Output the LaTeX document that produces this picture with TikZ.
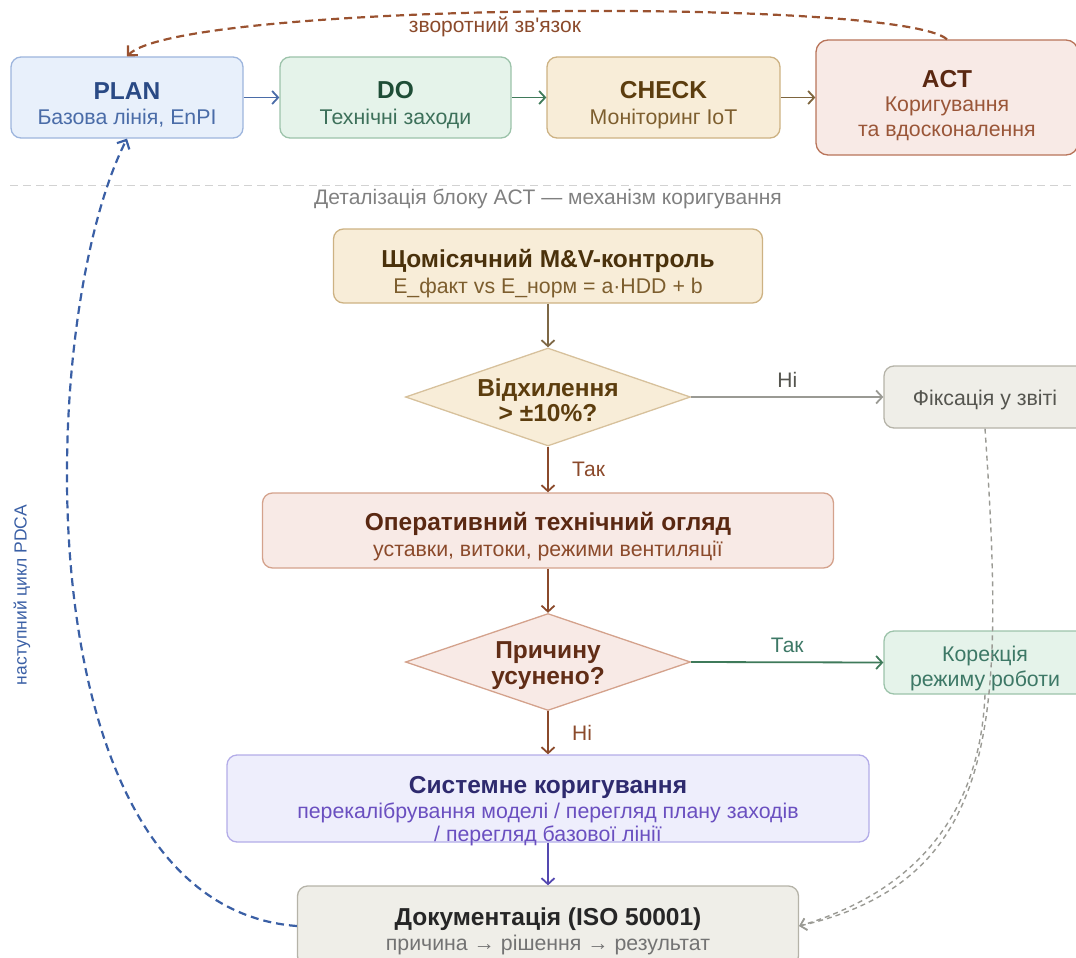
\documentclass[tikz,border=0pt]{standalone}
\usepackage{fontspec}
\setmainfont{Liberation Sans}
\newfontfamily\plainf{Liberation Sans}
\usetikzlibrary{shapes.geometric,arrows.meta}

\definecolor{planfill}{HTML}{E8F0FB}
\definecolor{planline}{HTML}{9DB5DD}
\definecolor{plantxt}{HTML}{2A4A85}
\definecolor{plansub}{HTML}{4A6CA8}
\definecolor{dofill}{HTML}{E5F3EA}
\definecolor{doline}{HTML}{9CC3AA}
\definecolor{dotxt}{HTML}{1E4D36}
\definecolor{dosub}{HTML}{3D705A}
\definecolor{chkfill}{HTML}{F8EDD8}
\definecolor{chkline}{HTML}{CDB283}
\definecolor{chktxt}{HTML}{5C3D0E}
\definecolor{chksub}{HTML}{7D5E2E}
\definecolor{actfill}{HTML}{F8EAE6}
\definecolor{actline}{HTML}{B9745A}
\definecolor{acttxt}{HTML}{5A2812}
\definecolor{actsub}{HTML}{9A5638}
\definecolor{revline}{HTML}{D4A28C}
\definecolor{brownarr}{HTML}{8B4A2B}
\definecolor{grayfill}{HTML}{EFEEE8}
\definecolor{grayline}{HTML}{B5B3A8}
\definecolor{grayarr}{HTML}{9A9A94}
\definecolor{graytxt}{HTML}{55554F}
\definecolor{greenarr}{HTML}{3F7A5A}
\definecolor{greentxt}{HTML}{3D7866}
\definecolor{sysfill}{HTML}{EEEEFC}
\definecolor{sysline}{HTML}{B3ACE8}
\definecolor{systxt}{HTML}{2E2A6E}
\definecolor{syssub}{HTML}{6A4FC0}
\definecolor{sysarr}{HTML}{5448B0}
\definecolor{fbbrown}{HTML}{9A5230}
\definecolor{loopblue}{HTML}{3A5FA5}

\newcommand\ttl{\fontsize{24.5}{25.5}\selectfont\bfseries}
\newcommand\subt{\fontsize{21.3}{25.5}\selectfont\mdseries}
\newcommand\lbl{\fontsize{21}{24}\selectfont}
\newcommand\topstrut[1]{\rule{0pt}{#1}}

\begin{document}
\begin{tikzpicture}[x=1pt,y=-1pt,
  box/.style={draw,rounded corners=10pt,line width=1.3pt,align=center,inner sep=0pt,font=\subt},
  decision/.style={draw,diamond,line width=1.3pt,inner sep=0pt,minimum width=285pt,minimum height=98pt},
  dlab/.style={align=center,font=\ttl},
  arr/.style={line width=1.8pt,-{Straight Barb[length=6pt,width=13pt]}},
  dasharr/.style={line width=1.4pt,dash pattern=on 5pt off 4pt,-{Straight Barb[length=6pt,width=12pt]}}
]
\useasboundingbox (0,0) rectangle (1076,958);

% PDCA row
\node[box,fill=planfill,draw=planline,minimum width=232pt,minimum height=81pt] (plan) at (127,97.5)
  {\topstrut{32pt}\ttl\color{plantxt}PLAN\\\subt\color{plansub}Базова лінія, EnPI};
\node[box,fill=dofill,draw=doline,minimum width=231pt,minimum height=81pt] (do) at (395.5,97.5)
  {\topstrut{32pt}\ttl\color{dotxt}DO\\\subt\color{dosub}Технічні заходи};
\node[box,fill=chkfill,draw=chkline,minimum width=233pt,minimum height=81pt] (check) at (663.5,97.5)
  {\topstrut{32pt}\ttl\color{chktxt}CHECK\\\subt\color{chksub}Моніторинг IoT};
\node[box,fill=actfill,draw=actline,rounded corners=12pt,minimum width=262pt,minimum height=115pt] (act) at (947,97.5)
  {\topstrut{34pt}\ttl\color{acttxt}ACT\\[-2pt]\subt\color{actsub}Коригування\\\subt\color{actsub}та вдосконалення};

\draw[arr,plansub] (plan) -- (do);
\draw[arr,greenarr] (do) -- (check);
\draw[arr,color=chksub!80!gray] (check) -- (act);

\draw[line width=2.2pt,fbbrown,dash pattern=on 8pt off 5pt,-{Straight Barb[length=7pt,width=14pt]}]
  (act.north) .. controls (900,-3) and (180,2) .. (plan.north);
\node[font=\lbl\plainf,text=brownarr] (fbtext) at (495,27) {зворотний зв'язок};

% separator
\draw[gray!35,line width=1pt,dash pattern=on 8pt off 5pt] (10,185) -- (1076,185);
\node[font=\lbl,text=gray] (caption) at (548,199) {Деталізація блоку ACT — механізм коригування};

% ACT details
\node[box,fill=chkfill,draw=chkline,minimum width=429pt,minimum height=74pt] (mv) at (548,266)
  {\topstrut{33pt}\ttl\color{chktxt!80!black}Щомісячний M\&V-контроль\\\subt\color{chksub}E\_факт vs E\_норм = a·HDD + b};
\node[decision,fill=chkfill,draw=chkline!80,label={[dlab,text=chktxt]center:{\topstrut{24pt}Відхилення\\> ±10\%?}}] (dev) at (548,397) {};
\node[box,fill=grayfill,draw=grayline,minimum width=202pt,minimum height=62pt] (fix) at (985,397)
  {\topstrut{21.5pt}\color{graytxt}Фіксація у звіті};
\node[box,fill=actfill,draw=revline,minimum width=571pt,minimum height=75pt] (rev) at (548,530.5)
  {\topstrut{30pt}\ttl\color{acttxt}Оперативний технічний огляд\\\subt\color{brownarr}уставки, витоки, режими вентиляції};
\node[decision,fill=actfill,draw=revline,minimum height=97pt,label={[dlab,text=acttxt!85!brownarr]center:{\topstrut{24pt}Причину\\усунено?}}] (fixd) at (548,662) {};
\node[box,fill=dofill,draw=doline,minimum width=202pt,minimum height=63pt] (corr) at (985,662.5)
  {\topstrut{27.5pt}\color{greentxt}Корекція\\\color{greentxt}режиму роботи};
\node[box,fill=sysfill,draw=sysline,minimum width=642pt,minimum height=87pt,
  label={[align=center,font=\subt,yshift=-12.5pt]center:{\ttl\color{systxt}Системне коригування\\[-1pt]\subt\color{syssub}перекалібрування моделі / перегляд плану заходів\\[-2.5pt]\subt\color{syssub}/ перегляд базової лінії}}] (sys) at (548,798.5) {};
\node[box,fill=grayfill,draw=grayline,minimum width=501pt,minimum height=80pt] (doc) at (548,926)
  {\topstrut{28pt}\ttl\color{black!85}Документація (ISO 50001)\\\subt\color{gray!90!black}причина → рішення → результат};

\draw[arr,chksub!70!gray] (mv) -- (dev);
\draw[arr,grayarr] (dev.east) -- (fix.west) node[midway,above=5pt,font=\lbl,text=graytxt] {Ні};
\draw[arr,brownarr] (dev.south) -- (rev.north) node[midway,right=20pt,font=\lbl,text=brownarr] {Так};
\draw[arr,brownarr] (rev) -- (fixd);
\draw[arr,greenarr] (fixd.east) -- (corr.west) node[midway,above=5pt,font=\lbl,text=greentxt] {Так};
\draw[arr,brownarr] (fixd.south) -- (sys.north) node[midway,right=20pt,font=\lbl,text=brownarr] {Ні};
\draw[arr,sysarr] (sys) -- (doc);

\draw[dasharr,grayarr] (fix.south) .. controls (1005,720) and (1000,880) .. (doc.east);
\draw[dasharr,grayarr] (corr.south) .. controls (980,810) and (920,890) .. (doc.east);

% next cycle
\draw[line width=2.2pt,loopblue,dash pattern=on 8pt off 5pt,-{Straight Barb[length=7pt,width=14pt]}]
  (doc.west) .. controls (20,905) and (35,320) .. (plan.south);
\node[rotate=90,font=\fontsize{17.5}{20}\selectfont,text=loopblue] (nextlab) at (22,595) {наступний цикл PDCA};
\end{tikzpicture}
\end{document}
